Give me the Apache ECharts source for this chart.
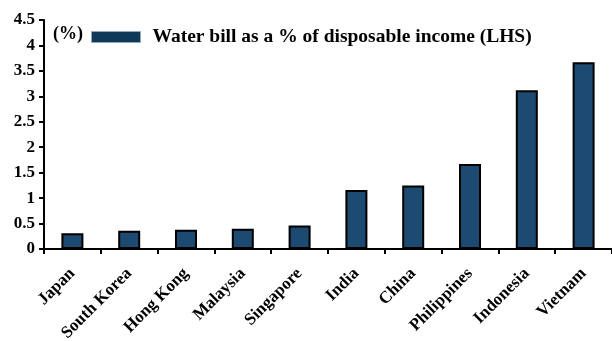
<!DOCTYPE html>
<html>
<head>
<meta charset="utf-8">
<script src="https://cdn.jsdelivr.net/npm/echarts@6/dist/echarts.min.js"></script>
<style>
  html, body { margin: 0; padding: 0; background: #fff; }
  #chart { width: 612px; height: 341px; }
</style>
</head>
<body>
<div id="chart"></div>
<script>
// values
const countries = ['Japan', 'South Korea', 'Hong Kong', 'Malaysia', 'Singapore', 'India', 'China', 'Philippines', 'Indonesia', 'Vietnam']
const waterBill = [0.31, 0.36, 0.38, 0.4, 0.46, 1.16, 1.25, 1.67, 3.12, 3.67]
const seriesName = 'Water bill as a % of disposable income (LHS)'

const fontFamily = '"Liberation Serif", "Times New Roman", serif'
const barColor = '#1c4a71'

const option = {
  animation: false,
  backgroundColor: '#fff',
  textStyle: { fontFamily: fontFamily },
  grid: { left: 44, right: 0, top: 20, bottom: 92, containLabel: false, outerBoundsMode: 'none' },
  title: {
    text: '(%)',
    left: 48,
    top: 20,
    textStyle: { fontFamily: fontFamily, fontSize: 18, fontWeight: 'bold', color: '#000' },
  },
  legend: {
    left: 86,
    top: 22,
    itemWidth: 49,
    itemHeight: 11,
    icon: 'rect',
    data: [seriesName],
    itemStyle: { color: '#0e3a58', borderColor: '#8fa8bc', borderWidth: 1 },
    textStyle: { fontFamily: fontFamily, fontSize: 19.5, fontWeight: 'bold', color: '#000', padding: [0, 0, 0, 7] },
  },
  xAxis: {
    type: 'category',
    data: countries,
    axisLine: { lineStyle: { color: '#000', width: 2 } },
    axisTick: { show: true, length: 5, lineStyle: { color: '#000', width: 2 } },
    axisLabel: {
      rotate: 45,
      interval: 0,
      margin: 22,
      fontFamily: fontFamily,
      fontSize: 17,
      fontWeight: 'bold',
      color: '#000',
    },
  },
  yAxis: {
    type: 'value',
    min: 0,
    max: 4.5,
    interval: 0.5,
    splitLine: { show: false },
    axisLine: { show: true, lineStyle: { color: '#000', width: 2 } },
    axisTick: { show: true, length: 5, lineStyle: { color: '#000', width: 2 } },
    axisLabel: {
      margin: 9,
      fontFamily: fontFamily,
      fontSize: 17,
      fontWeight: 'bold',
      color: '#000',
    },
  },
  series: [
    {
      name: seriesName,
      type: 'bar',
      data: waterBill,
      barWidth: 22,
      itemStyle: { color: barColor, borderColor: '#000', borderWidth: 2 },
    },
  ],
}

const c = echarts.init(document.getElementById('chart'))
c.setOption(option)
</script>
</body>
</html>
